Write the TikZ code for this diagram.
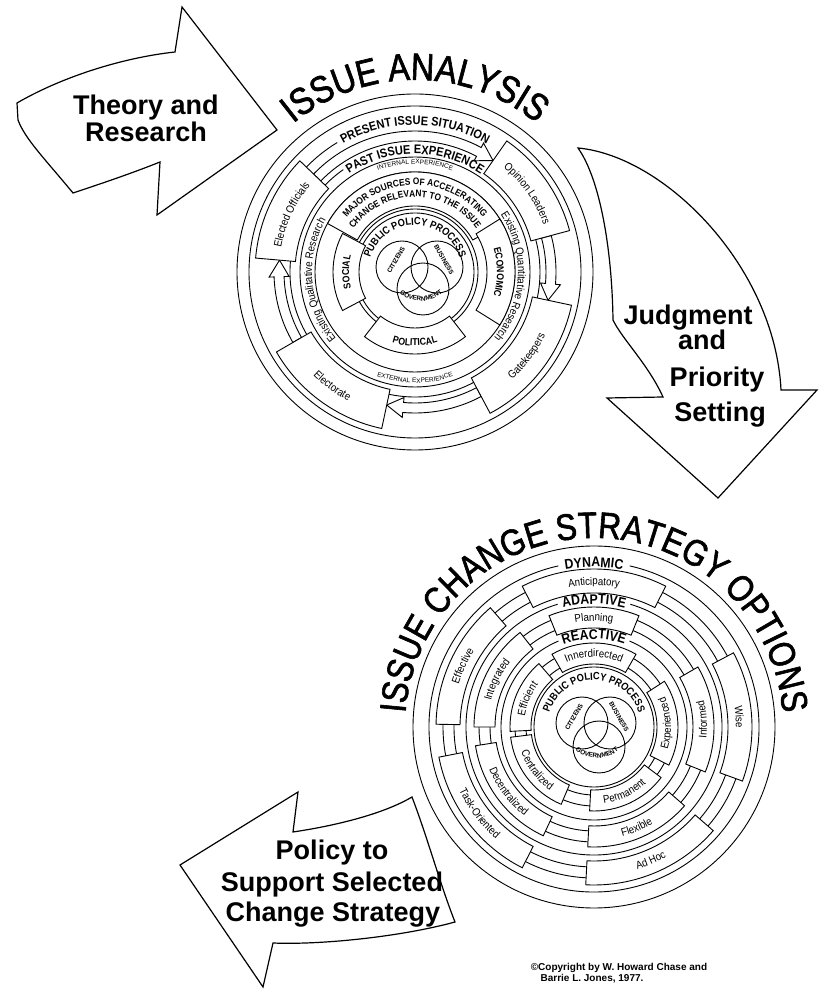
\documentclass[tikz,border=0pt]{standalone}
\usepackage{fontspec}
\setmainfont{Liberation Sans}
\newfontfamily\cnd[FakeStretch=0.88]{Liberation Sans}
\newfontfamily\ttlfont[FakeStretch=0.85,FakeBold=1.6]{Liberation Sans}
\usetikzlibrary{decorations.text}
\newcommand{\labfont}{\cnd\fontsize{11}{11}\selectfont}
\newcommand{\hdtw}{\cnd\bfseries\fontsize{12.5}{12.5}\selectfont}
\newcommand{\hdpast}{\cnd\bfseries\fontsize{12.5}{12.5}\selectfont}
\newcommand{\hdbig}{\cnd\bfseries\fontsize{14}{14}\selectfont}
\newcommand{\hdten}{\cnd\bfseries\fontsize{10}{10}\selectfont}
\newcommand{\hdpub}{\cnd\bfseries\fontsize{10.5}{10.5}\selectfont}
\newcommand{\hdmaj}{\cnd\bfseries\fontsize{9.5}{9.5}\selectfont}
\newcommand{\tinyf}{\fontsize{6.5}{6.5}\selectfont}
\newcommand{\vennf}{\bfseries\fontsize{6.5}{6.5}\selectfont}
\newcommand{\ttlA}{\ttlfont\fontsize{38}{38}\selectfont}
\newcommand{\ttlB}{\ttlfont\fontsize{37}{37}\selectfont}
\newcommand{\cwtext}[4]{\path[decorate,decoration={text along path,text align=center,text={|#3|#4}}] ({#2+100}:#1) arc[start angle={#2+100},end angle={#2-100},radius=#1];}
\newcommand{\ccwtext}[4]{\path[decorate,decoration={text along path,text align=center,text={|#3|#4}}] ({#2-100}:#1) arc[start angle={#2-100},end angle={#2+100},radius=#1];}
\newcommand{\annsec}[4]{\draw[boxline] ({#1}:#3) arc[start angle={#1},end angle={#2},radius=#3] -- ({#2}:#4) arc[start angle={#2},end angle={#1},radius=#4] -- cycle;}
\newcommand{\cycarrow}[2]{\draw[boxline] ({#1}:141pt) arc[start angle={#1},end angle={#2+7},radius=141pt] -- ({#2+7}:146pt) -- ({#2}:136pt) -- ({#2+7}:126pt) -- ({#2+7}:131pt) arc[start angle={#2+7},end angle={#1},radius=131pt] -- cycle;}
\tikzset{
  ln/.style={line width=0.9pt},
  boxline/.style={line width=0.9pt, fill=white, line join=miter},
  bigarrow/.style={line width=1.2pt, fill=white, line join=miter},
  arrtext/.style={font=\fontsize{27}{30}\selectfont\bfseries, inner sep=0pt, anchor=base},
  vlab/.style={font=\vennf, inner sep=0pt},
  copyr/.style={font=\fontsize{10}{10}\selectfont\bfseries, inner sep=0pt, anchor=base}
}
\begin{document}
\begin{tikzpicture}[x=1pt,y=1pt]
\useasboundingbox (0,0) rectangle (821,989);
\fill[white] (0,0) rectangle (821,989);

% ---------- big arrows ----------
\draw[bigarrow] (17,886) .. controls (60,911) and (120,931) .. (175,937) -- (182,982) -- (277,859) -- (157,774) -- (160,827) .. controls (130,815) and (100,805) .. (73,796) .. controls (45,830) and (25,850) .. (18,869) -- cycle;
\node[arrtext] (theoryA) at (146,874) {Theory and};
\node[arrtext] (theoryB) at (146,847) {Research};

\draw[bigarrow] (578,841) .. controls (665,833) and (775,722) .. (781,599) -- (817,599) -- (718,491) -- (607,591) -- (663,592) .. controls (648,625) and (622,650) .. (613,669) .. controls (612,740) and (600,810) .. (578,841) -- cycle;
\node[arrtext] (judgA) at (688,664) {Judgment};
\node[arrtext] (judgB) at (702,639) {and};
\node[arrtext] (judgC) at (717,602) {Priority};
\node[arrtext] (judgD) at (720,567) {Setting};

\draw[bigarrow] (180,124) -- (298,197) -- (293,157) .. controls (340,164) and (385,176) .. (412,192) .. controls (428,150) and (440,105) .. (455,67) .. controls (400,52) and (320,44) .. (273,46) -- (263,2) -- cycle;
\node[arrtext] (polA) at (332,129) {Policy to};
\node[arrtext] (polB) at (332,97) {Support Selected};
\node[arrtext] (polC) at (333,67) {Change Strategy};

% ---------- ISSUE ANALYSIS ----------
\begin{scope}[shift={(415,717)}]
  \draw[ln] (0,0) circle[radius=178pt];
  \draw[ln] (0,0) circle[radius=166pt];
  \draw[ln] (121:151pt) arc[start angle=121,end angle=136,radius=151pt];
  \draw[ln] (125:125pt) arc[start angle=125,end angle=415,radius=125pt];
  \draw[ln] (0,0) circle[radius=115pt];
  \draw[ln] (0,0) circle[radius=100pt];
  \draw[ln] (0,0) circle[radius=63pt];
  \draw[ln] (0,0) circle[radius=59pt];
  \cycarrow{136}{55}
  \cycarrow{15}{-12}
  \cycarrow{-62}{-102}
  \cycarrow{210}{175}
  \annsec{136}{175}{120pt}{160pt}
  \annsec{15}{55}{120pt}{160pt}
  \annsec{-62}{-12}{120pt}{160pt}
  \annsec{-150}{-102}{120pt}{160pt}
  \annsec{29}{151}{66pt}{100pt}
  \annsec{-32}{32}{72pt}{100pt}
  \annsec{-128}{-52}{56pt}{82pt}
  \annsec{152}{208}{56pt}{82pt}
  \cwtext{192pt}{90}{\ttlA}{ISSUE ANALYSIS}
  \cwtext{147pt}{90}{\hdtw}{PRESENT ISSUE SITUATION}
  \cwtext{118pt}{90}{\hdpast}{PAST ISSUE EXPERIENCE}
  \cwtext{136pt}{155}{\labfont}{Elected Officials}
  \cwtext{137pt}{35}{\labfont}{Opinion Leaders}
  \ccwtext{145pt}{-37}{\labfont}{Gatekeepers}
  \ccwtext{145pt}{-126}{\labfont}{Electorate}
  \cwtext{108pt}{90}{\tinyf}{INTERNAL EXPERIENCE}
  \ccwtext{111pt}{-90}{\tinyf}{EXTERNAL EXPERIENCE}
  \cwtext{103pt}{185}{\labfont}{Existing Qualitative Research}
  \cwtext{103pt}{-3}{\labfont}{Existing Quantitative Research}
  \cwtext{87pt}{90}{\hdmaj}{MAJOR SOURCES OF ACCELERATING}
  \cwtext{75pt}{90}{\hdmaj}{CHANGE RELEVANT TO THE ISSUE}
  \cwtext{82pt}{0}{\hdten}{ECONOMIC}
  \cwtext{66pt}{180}{\hdten}{SOCIAL}
  \ccwtext{74pt}{-90}{\hdten}{POLITICAL}
  \cwtext{47pt}{90}{\hdpub}{PUBLIC POLICY PROCESS}
  \draw[ln] (-13,5) circle[radius=26pt];
  \draw[ln] (22,5) circle[radius=26pt];
  \draw[ln] (8,-17) circle[radius=26pt];
  \node[vlab, rotate=60] (citA) at (-19,12) {CITIZENS};
  \node[vlab, rotate=-60] (busA) at (29,12) {BUSINESS};
  \begin{scope}[shift={(6,4)}]
    \ccwtext{33pt}{-90}{\vennf}{GOVERNMENT}
  \end{scope}
\end{scope}

% ---------- ISSUE CHANGE STRATEGY OPTIONS ----------
\begin{scope}[shift={(594,262)}]
  \draw[ln] (0,0) circle[radius=181pt];
  \draw[ln] (102.5:165pt) arc[start angle=102.5,end angle=437.5,radius=165pt];
  \draw[ln] (0,0) circle[radius=151pt];
  \draw[ln] (0,0) circle[radius=140pt];
  \draw[ln] (106.5:128pt) arc[start angle=106.5,end angle=433.5,radius=128pt];
  \draw[ln] (0,0) circle[radius=115pt];
  \draw[ln] (0,0) circle[radius=104pt];
  \draw[ln] (112.5:93pt) arc[start angle=112.5,end angle=427.5,radius=93pt];
  \draw[ln] (0,0) circle[radius=79pt];
  \draw[ln] (0,0) circle[radius=68pt];
  \draw[ln] (0,0) circle[radius=60pt];
  \annsec{63}{117}{134pt}{158pt}
  \annsec{-20}{28}{134pt}{158pt}
  \annsec{-93}{-41}{134pt}{158pt}
  \annsec{-169}{-117}{134pt}{158pt}
  \annsec{131}{179}{134pt}{158pt}
  \annsec{68}{112}{99pt}{120pt}
  \annsec{-22}{30}{99pt}{120pt}
  \annsec{-93}{-41}{99pt}{120pt}
  \annsec{-171}{-115}{99pt}{120pt}
  \annsec{128}{180}{99pt}{120pt}
  \annsec{60}{120}{63pt}{84pt}
  \annsec{-27}{33}{63pt}{84pt}
  \annsec{-93}{-37}{63pt}{84pt}
  \annsec{-173}{-113}{63pt}{84pt}
  \annsec{131}{183}{63pt}{84pt}
  \cwtext{189pt}{90}{\ttlB}{ISSUE CHANGE STRATEGY OPTIONS}
  \cwtext{160pt}{90}{\hdbig}{DYNAMIC}
  \cwtext{123pt}{90}{\hdbig}{ADAPTIVE}
  \cwtext{88pt}{90}{\hdbig}{REACTIVE}
  \cwtext{47pt}{90}{\hdpub}{PUBLIC POLICY PROCESS}
  \cwtext{142pt}{90}{\labfont}{Anticipatory}
  \cwtext{142pt}{4}{\labfont}{Wise}
  \cwtext{142pt}{155}{\labfont}{Effective}
  \ccwtext{149pt}{-67}{\labfont}{Ad Hoc}
  \ccwtext{149pt}{-143}{\labfont}{Task-Oriented}
  \cwtext{106pt}{90}{\labfont}{Planning}
  \cwtext{106pt}{154}{\labfont}{Integrated}
  \ccwtext{113pt}{4}{\labfont}{Informed}
  \ccwtext{113pt}{-67}{\labfont}{Flexible}
  \ccwtext{113pt}{-143}{\labfont}{Decentralized}
  \cwtext{70pt}{90}{\labfont}{Innerdirected}
  \cwtext{70pt}{157}{\labfont}{Efficient}
  \ccwtext{77pt}{3}{\labfont}{Experienced}
  \ccwtext{77pt}{-65}{\labfont}{Permanent}
  \ccwtext{77pt}{-143}{\labfont}{Centralized}
  \draw[ln] (-12,4) circle[radius=26pt];
  \draw[ln] (16,4) circle[radius=26pt];
  \draw[ln] (5,-20) circle[radius=26pt];
  \node[vlab, rotate=60] (citB) at (-20,10) {CITIZENS};
  \node[vlab, rotate=-60] (busB) at (25,10) {BUSINESS};
  \begin{scope}[shift={(3,4)}]
    \ccwtext{35pt}{-90}{\vennf}{GOVERNMENT}
  \end{scope}
\end{scope}

\node[copyr] (copyA) at (619,19) {\textcopyright Copyright by W. Howard Chase and};
\node[copyr] (copyB) at (592,7) {Barrie L. Jones, 1977.};
\end{tikzpicture}
\end{document}
